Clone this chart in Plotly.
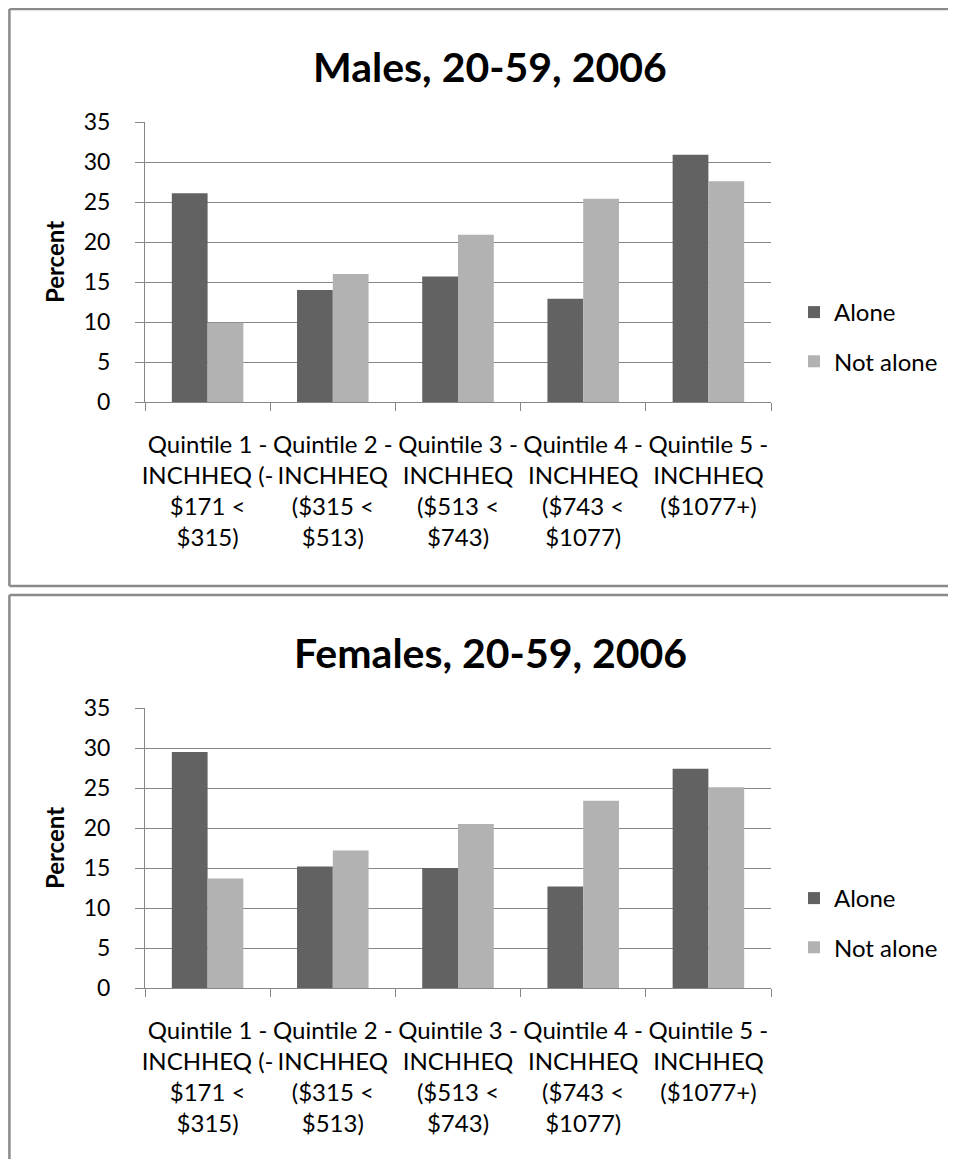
import plotly.graph_objects as go

categories = ["Q1", "Q2", "Q3", "Q4", "Q5"]
tick_labels = [
    "Quintile 1 -<br>INCHHEQ (-<br>$171 <<br>$315)",
    "Quintile 2 -<br>INCHHEQ<br>($315 <<br>$513)",
    "Quintile 3 -<br>INCHHEQ<br>($513 <<br>$743)",
    "Quintile 4 -<br>INCHHEQ<br>($743 <<br>$1077)",
    "Quintile 5 -<br>INCHHEQ<br>($1077+)",
]
y_ticks = [0, 5, 10, 15, 20, 25, 30, 35]
males_alone = [26.1, 14.0, 15.7, 12.9, 30.9]
males_not_alone = [9.9, 16.0, 20.9, 25.4, 27.6]
females_alone = [29.5, 15.2, 15.0, 12.7, 27.4]
females_not_alone = [13.7, 17.2, 20.5, 23.4, 25.1]
titles = ["Males, 20-59, 2006", "Females, 20-59, 2006"]

# the page has the browser's default 8px body margin; keep the figure inside the window
OFF = 8
W, H = 956 - 2 * OFF, 1167 - 2 * OFF
FONT = "Lato"
C_ALONE = "#626262"
C_NOT = "#b2b2b2"
GRID = "#868686"
FRAME = "#8a8a8a"


def px(x):
    return (x - OFF) / W


def py(y):
    return 1 - (y - OFF) / H


fig = go.Figure()

for i, (a, n) in enumerate([(males_alone, males_not_alone), (females_alone, females_not_alone)]):
    d = 586 * i
    y0, y35, title_y, legend_y = 402 + d, 122 + d, 66 + d, 290 + d
    xa = "x" if i == 0 else "x2"
    ya = "y" if i == 0 else "y2"
    leg = "legend" if i == 0 else "legend2"
    sfx = "" if i == 0 else "2"
    fig.add_trace(go.Bar(x=categories, y=a, name="Alone", marker_color=C_ALONE,
                         marker_line_width=0, xaxis=xa, yaxis=ya, legend=leg,
                         legendgroup="a"))
    fig.add_trace(go.Bar(x=categories, y=n, name="Not alone", marker_color=C_NOT,
                         marker_line_width=0, xaxis=xa, yaxis=ya, legend=leg,
                         legendgroup="b"))
    fig.update_layout(**{
        "xaxis" + sfx: dict(
            domain=[px(145), px(771)], anchor=ya, type="category",
            tickmode="array", tickvals=categories, ticktext=tick_labels,
            tickson="boundaries", ticks="outside", ticklen=8, tickcolor=GRID,
            showline=True, linecolor=GRID, linewidth=1, showgrid=False,
            tickangle=0, automargin=False,
            tickfont=dict(family=FONT, size=24, color="#000"),
            ticklabelstandoff=21, fixedrange=True,
        ),
        "yaxis" + sfx: dict(
            domain=[py(y0), py(y35)], anchor=xa, range=[0, 35],
            tickmode="array", tickvals=y_ticks,
            ticks="outside", ticklen=9, tickcolor=GRID,
            showline=True, linecolor=GRID, linewidth=1,
            showgrid=True, gridcolor=GRID, gridwidth=1, zeroline=False,
            tickfont=dict(family=FONT, size=23, color="#000"),
            ticklabelstandoff=20, automargin=False,
            title=dict(text="<b>Percent</b>", font=dict(family=FONT, size=24, color="#000"),
                       standoff=12),
            fixedrange=True,
        ),
        leg: dict(
            x=px(794), y=py(legend_y), xanchor="left", yanchor="top",
            font=dict(family=FONT, size=24, color="#000"), traceorder="grouped",
            tracegroupgap=15, itemwidth=30, bgcolor="rgba(0,0,0,0)",
        ),
    })
    fig.add_annotation(text="<b>" + titles[i] + "</b>", x=px(490), y=py(title_y),
                       xref="paper", yref="paper", showarrow=False, xanchor="center",
                       yanchor="middle", font=dict(family=FONT, size=41, color="#000"))
    # chart frame: top, left and (for the upper chart) bottom edges; right side runs off the page
    ft = py(9 + d)
    fb = py(586 + d) if i == 0 else 0
    fl = 0.0015
    fig.add_shape(type="line", xref="paper", yref="paper", x0=fl, x1=1, y0=ft, y1=ft,
                  line=dict(color=FRAME, width=2.5), layer="below")
    fig.add_shape(type="line", xref="paper", yref="paper", x0=fl, x1=fl, y0=fb, y1=ft,
                  line=dict(color=FRAME, width=2.5), layer="below")
    if i == 0:
        fig.add_shape(type="line", xref="paper", yref="paper", x0=fl, x1=1, y0=fb, y1=fb,
                      line=dict(color=FRAME, width=2.5), layer="below")

fig.update_layout(
    width=W, height=H, margin=dict(l=0, r=0, t=0, b=0, autoexpand=False),
    paper_bgcolor="white", plot_bgcolor="white",
    barmode="group", bargap=0.4286, bargroupgap=0,
    showlegend=True,
)

fig.write_html("out.html")
